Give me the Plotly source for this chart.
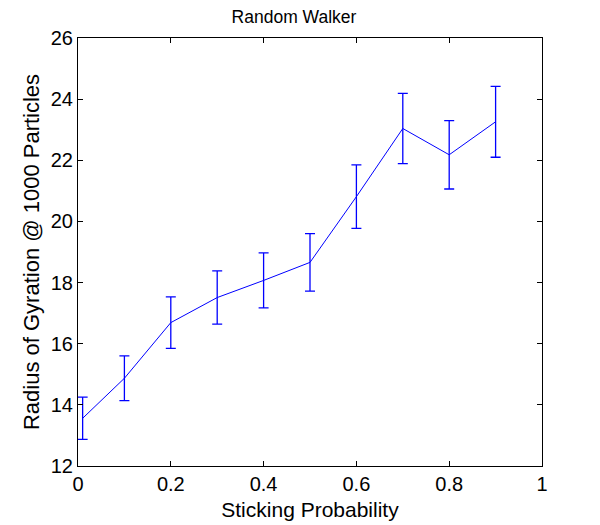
import plotly.graph_objects as go

sticking_prob = [0.01, 0.1, 0.2, 0.3, 0.4, 0.5, 0.6, 0.7, 0.8, 0.9]
radius_gyration = [13.56, 14.87, 16.69, 17.51, 18.07, 18.66, 20.81, 23.04, 22.18, 23.26]
error_values = [0.69, 0.73, 0.84, 0.87, 0.90, 0.94, 1.04, 1.15, 1.12, 1.16]

x_ticks = [0, 0.2, 0.4, 0.6, 0.8, 1]
x_tick_labels = ["0", "0.2", "0.4", "0.6", "0.8", "1"]
y_ticks = [12, 14, 16, 18, 20, 22, 24, 26]

font_family = "Liberation Sans, Arial, Helvetica, sans-serif"

fig = go.Figure()
fig.add_trace(go.Scatter(
    x=sticking_prob,
    y=radius_gyration,
    mode="lines",
    line=dict(color="#0000ff", width=1),
    error_y=dict(type="data", array=error_values, visible=True,
                 color="#0000ff", thickness=1.3, width=5),
    showlegend=False,
))

# page body has an 8px margin, so the figure is offset by 8px right and down
fig.update_layout(
    width=600, height=525,
    paper_bgcolor="white", plot_bgcolor="white",
    margin=dict(l=70, r=66, t=30, b=67, autoexpand=False),
    font=dict(family=font_family, color="black"),
    title=dict(text="Random Walker", x=(294 - 8) / 600, xanchor="center", xref="container",
               yref="container", y=1 - 3/525, yanchor="top", pad=dict(t=0, b=0),
               font=dict(size=17.5, family=font_family, color="black")),
    xaxis=dict(range=[0, 1], tickvals=x_ticks, ticktext=x_tick_labels,
               ticks="inside", ticklen=5, tickcolor="black", tickwidth=1,
               showline=True, linecolor="black", linewidth=1, mirror="ticks",
               showgrid=False, zeroline=False, automargin=False,
               tickfont=dict(size=20),
               title=dict(text="Sticking Probability", font=dict(size=21), standoff=8)),
    yaxis=dict(range=[12, 26], tickvals=y_ticks,
               ticks="inside", ticklen=5, tickcolor="black", tickwidth=1,
               showline=True, linecolor="black", linewidth=1, mirror="ticks",
               showgrid=False, zeroline=False, automargin=False,
               tickfont=dict(size=20),
               title=dict(text="Radius of Gyration @ 1000 Particles", font=dict(size=22), standoff=5)),
)

fig.write_html("out.html")
